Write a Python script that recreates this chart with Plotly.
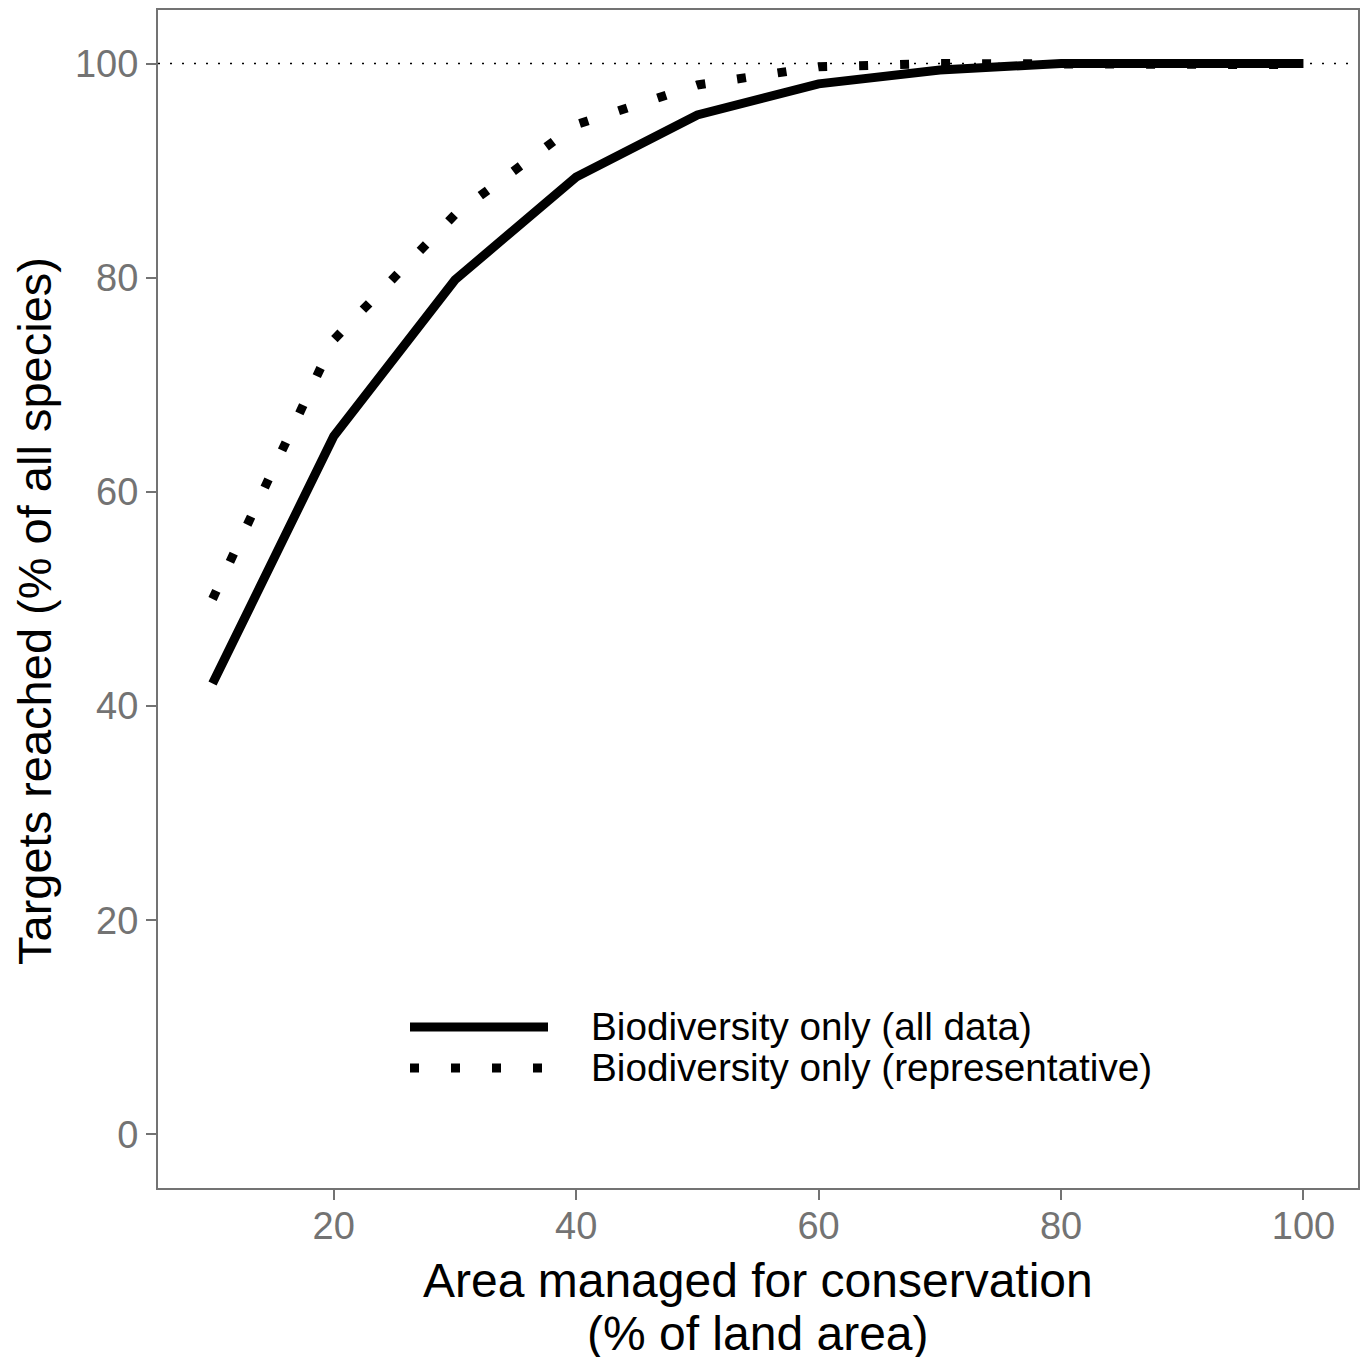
import plotly.graph_objects as go

area_pct = [10, 20, 30, 40, 50, 60, 70, 80, 90, 100]
all_data = [42.1, 65.2, 79.8, 89.4, 95.2, 98.1, 99.4, 100.0, 100.0, 100.0]
representative = [50.0, 74.2, 85.9, 94.3, 98.0, 99.7, 100.0, 99.9, 99.9, 99.9]
series_names = ["Biodiversity only (all data)", "Biodiversity only (representative)"]
target_line = [100]
x_ticks = [20, 40, 60, 80, 100]
y_ticks = [0, 20, 40, 60, 80, 100]
x_title = ["Area managed for conservation", "(% of land area)"]
y_title = "Targets reached (% of all species)"

FONT = "Liberation Sans, Arial, Helvetica, sans-serif"
GREY = "#737373"
LW = 9
DOT = "9px,32px"

fig = go.Figure()
fig.add_trace(go.Scatter(x=area_pct, y=all_data, mode="lines", name=series_names[0],
                         line=dict(color="black", width=LW), showlegend=False))
fig.add_trace(go.Scatter(x=area_pct, y=representative, mode="lines", name=series_names[1],
                         line=dict(color="black", width=LW, dash=DOT), showlegend=False))

fig.add_shape(type="line", xref="paper", yref="y", x0=0, x1=1, y0=target_line[0], y1=target_line[0],
              line=dict(color="black", width=1.6, dash="2px,10px"), layer="below")

# manual legend (long key samples like ggplot)
leg_y = [0.1367, 0.1019]
dashes = ["solid", DOT]
for i, name in enumerate(series_names):
    fig.add_shape(type="line", xref="paper", yref="paper", x0=0.21, x1=0.325, y0=leg_y[i], y1=leg_y[i],
                  line=dict(color="black", width=LW, dash=dashes[i]))
    fig.add_annotation(xref="paper", yref="paper", x=0.361, y=leg_y[i], text=name, showarrow=False,
                       xanchor="left", yanchor="middle", xshift=-2,
                       font=dict(family=FONT, size=38.7, color="black"))

# axis titles
fig.add_annotation(xref="paper", yref="paper", x=0.5, y=0, yshift=-92, text=x_title[0], showarrow=False,
                   xanchor="center", yanchor="middle", font=dict(family=FONT, size=48, color="black"))
fig.add_annotation(xref="paper", yref="paper", x=0.5, y=0, yshift=-145, text=x_title[1], showarrow=False,
                   xanchor="center", yanchor="middle", font=dict(family=FONT, size=48, color="black"))
fig.add_annotation(xref="paper", yref="paper", x=0, y=0.5, xshift=-124, yshift=-12, text=y_title,
                   showarrow=False, textangle=-90, xanchor="center", yanchor="middle",
                   font=dict(family=FONT, size=47, color="black"))

axis_common = dict(showline=True, linecolor=GREY, linewidth=2, mirror=True, showgrid=False,
                   zeroline=False, ticks="outside", ticklen=10, tickwidth=2, tickcolor=GREY,
                   automargin=False, tickfont=dict(family=FONT, size=38, color=GREY))
fig.update_xaxes(range=[5.5, 104.5], tickvals=x_ticks, ticklabelstandoff=-7, **axis_common)
fig.update_yaxes(range=[-5, 105], tickvals=y_ticks, **axis_common)

fig.update_layout(width=1368, height=1357, margin=dict(l=158, r=10, t=10, b=169, autoexpand=False),
                  plot_bgcolor="white", paper_bgcolor="white", showlegend=False)
fig.write_html("out.html", config={"displayModeBar": False},
               post_script="document.body.style.margin='0px';document.body.style.overflow='hidden';")
